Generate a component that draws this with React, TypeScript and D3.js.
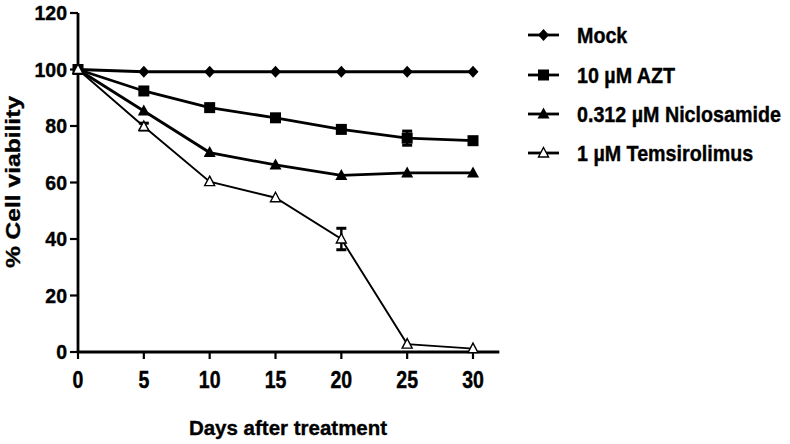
import React from "react";
import * as d3 from "d3";

const days = [0, 5, 10, 15, 20, 25, 30];
const seriesNames = ["Mock", "10 \u00b5M AZT", "0.312 \u00b5M Niclosamide", "1 \u00b5M Temsirolimus"];
const mockValues = [100, 99.2, 99.2, 99.2, 99.2, 99.2, 99.2];
const aztValues = [100, 92.4, 86.5, 82.9, 78.8, 75.7, 74.8];
const aztErrors = [0, 0, 0, 0, 0, 2.5, 0];
const niclosamideValues = [100, 85.3, 70.6, 66.2, 62.5, 63.4, 63.4];
const niclosamideErrors = [0, 0, 0, 0, 0, 0, 0];
const temsirolimusValues = [100, 79.8, 60.3, 54.6, 40.0, 2.8, 1.2];
const temsirolimusErrors = [0, 1.2, 0, 0, 3.8, 0, 0];
const mockErrors = [0, 0, 0, 0, 0, 0, 0];
const yTicks = [0, 20, 40, 60, 80, 100, 120];
const xTicks = [0, 5, 10, 15, 20, 25, 30];

const FONT = "'Liberation Sans', Arial, Helvetica, sans-serif";

type Shape = "diamond" | "square" | "triangle" | "openTriangle";

const series: { name: string; values: number[]; errors: number[]; shape: Shape; width: number }[] = [
  { name: seriesNames[0], values: mockValues, errors: mockErrors, shape: "diamond", width: 2.8 },
  { name: seriesNames[1], values: aztValues, errors: aztErrors, shape: "square", width: 2.8 },
  { name: seriesNames[2], values: niclosamideValues, errors: niclosamideErrors, shape: "triangle", width: 2.8 },
  { name: seriesNames[3], values: temsirolimusValues, errors: temsirolimusErrors, shape: "openTriangle", width: 1.9 },
];

function Marker({ shape, x, y }: { shape: Shape; x: number; y: number }) {
  if (shape === "diamond") {
    return <path d={`M${x},${y - 6}L${x + 5.5},${y}L${x},${y + 6}L${x - 5.5},${y}Z`} fill="#000" />;
  }
  if (shape === "square") {
    return <rect x={x - 5.5} y={y - 5.5} width={11} height={11} fill="#000" />;
  }
  if (shape === "triangle") {
    return <path d={`M${x},${y - 6.5}L${x + 6},${y + 4.5}L${x - 6},${y + 4.5}Z`} fill="#000" />;
  }
  return (
    <path
      d={`M${x},${y - 5.5}L${x + 5},${y + 4}L${x - 5},${y + 4}Z`}
      fill="#fff"
      stroke="#000"
      strokeWidth={1.4}
    />
  );
}

export default function App() {
  const x = d3.scaleLinear().domain([0, 30]).range([78, 473]);
  const y = d3.scaleLinear().domain([0, 120]).range([352, 13]);
  const axisEnd = x(32);
  const line = d3
    .line<number>()
    .x((_, i) => x(days[i]))
    .y((v) => y(v));

  const legendRows = [35, 75, 114, 153];
  const textStroke = { stroke: "#000", strokeWidth: 0.35 };

  return (
    <svg
      width={790}
      height={444}
      style={{ position: "absolute", left: 0, top: 0, background: "#fff" }}
      fontFamily={FONT}
      fontWeight="bold"
    >
      <rect width={790} height={444} fill="#fff" />
      {/* axes */}
      <line x1={x(0)} x2={x(0)} y1={y(120)} y2={y(0) + 1} stroke="#000" strokeWidth={2.8} />
      <line x1={x(0) - 1} x2={axisEnd} y1={y(0)} y2={y(0)} stroke="#000" strokeWidth={2.8} />
      {yTicks.map((t) => (
        <g key={"y" + t}>
          <line x1={x(0) - 8} x2={x(0)} y1={y(t)} y2={y(t)} stroke="#000" strokeWidth={2.2} />
          <text x={67} y={y(t)} dy="0.36em" textAnchor="end" fontSize={19.5} {...textStroke}>
            {t}
          </text>
        </g>
      ))}
      {xTicks.map((t) => (
        <g key={"x" + t}>
          <line x1={x(t)} x2={x(t)} y1={y(0)} y2={y(0) + 7} stroke="#000" strokeWidth={2.2} />
          <text
            transform={`translate(${x(t)},388) scale(1,1.25)`}
            textAnchor="middle"
            fontSize={19.5}
            {...textStroke}
          >
            {t}
          </text>
        </g>
      ))}
      <text x={288} y={435} textAnchor="middle" fontSize={20.5} {...textStroke}>
        Days after treatment
      </text>
      <text
        transform="translate(20,182) rotate(-90) scale(1.2,1)"
        textAnchor="middle"
        fontSize={20.5}
        {...textStroke}
      >
        % Cell viability
      </text>

      {/* series lines */}
      {series.map((s) => (
        <path key={s.name + "l"} d={line(s.values) || ""} fill="none" stroke="#000" strokeWidth={s.width} />
      ))}
      {/* error bars */}
      {series.map((s) =>
        s.values.map((v, i) =>
          s.errors[i] > 0 ? (
            <g key={s.name + "e" + i} stroke="#000" strokeWidth={2.4}>
              <line x1={x(days[i])} x2={x(days[i])} y1={y(v + s.errors[i])} y2={y(v - s.errors[i])} />
              <line x1={x(days[i]) - 5} x2={x(days[i]) + 5} y1={y(v + s.errors[i])} y2={y(v + s.errors[i])} strokeWidth={3} />
              <line x1={x(days[i]) - 5} x2={x(days[i]) + 5} y1={y(v - s.errors[i])} y2={y(v - s.errors[i])} strokeWidth={3} />
            </g>
          ) : null
        )
      )}
      {/* markers */}
      {series.map((s) =>
        s.values.map((v, i) => <Marker key={s.name + "m" + i} shape={s.shape} x={x(days[i])} y={y(v)} />)
      )}

      {/* legend */}
      {series.map((s, i) => (
        <g key={s.name + "leg"}>
          <line x1={528} x2={559} y1={legendRows[i]} y2={legendRows[i]} stroke="#000" strokeWidth={2.8} />
          <Marker shape={s.shape} x={543.5} y={legendRows[i]} />
          <text
            transform={`translate(577,${legendRows[i]}) scale(1,1.1)`}
            dy="0.36em"
            fontSize={19.7}
            {...textStroke}
          >
            {s.name}
          </text>
        </g>
      ))}
    </svg>
  );
}
